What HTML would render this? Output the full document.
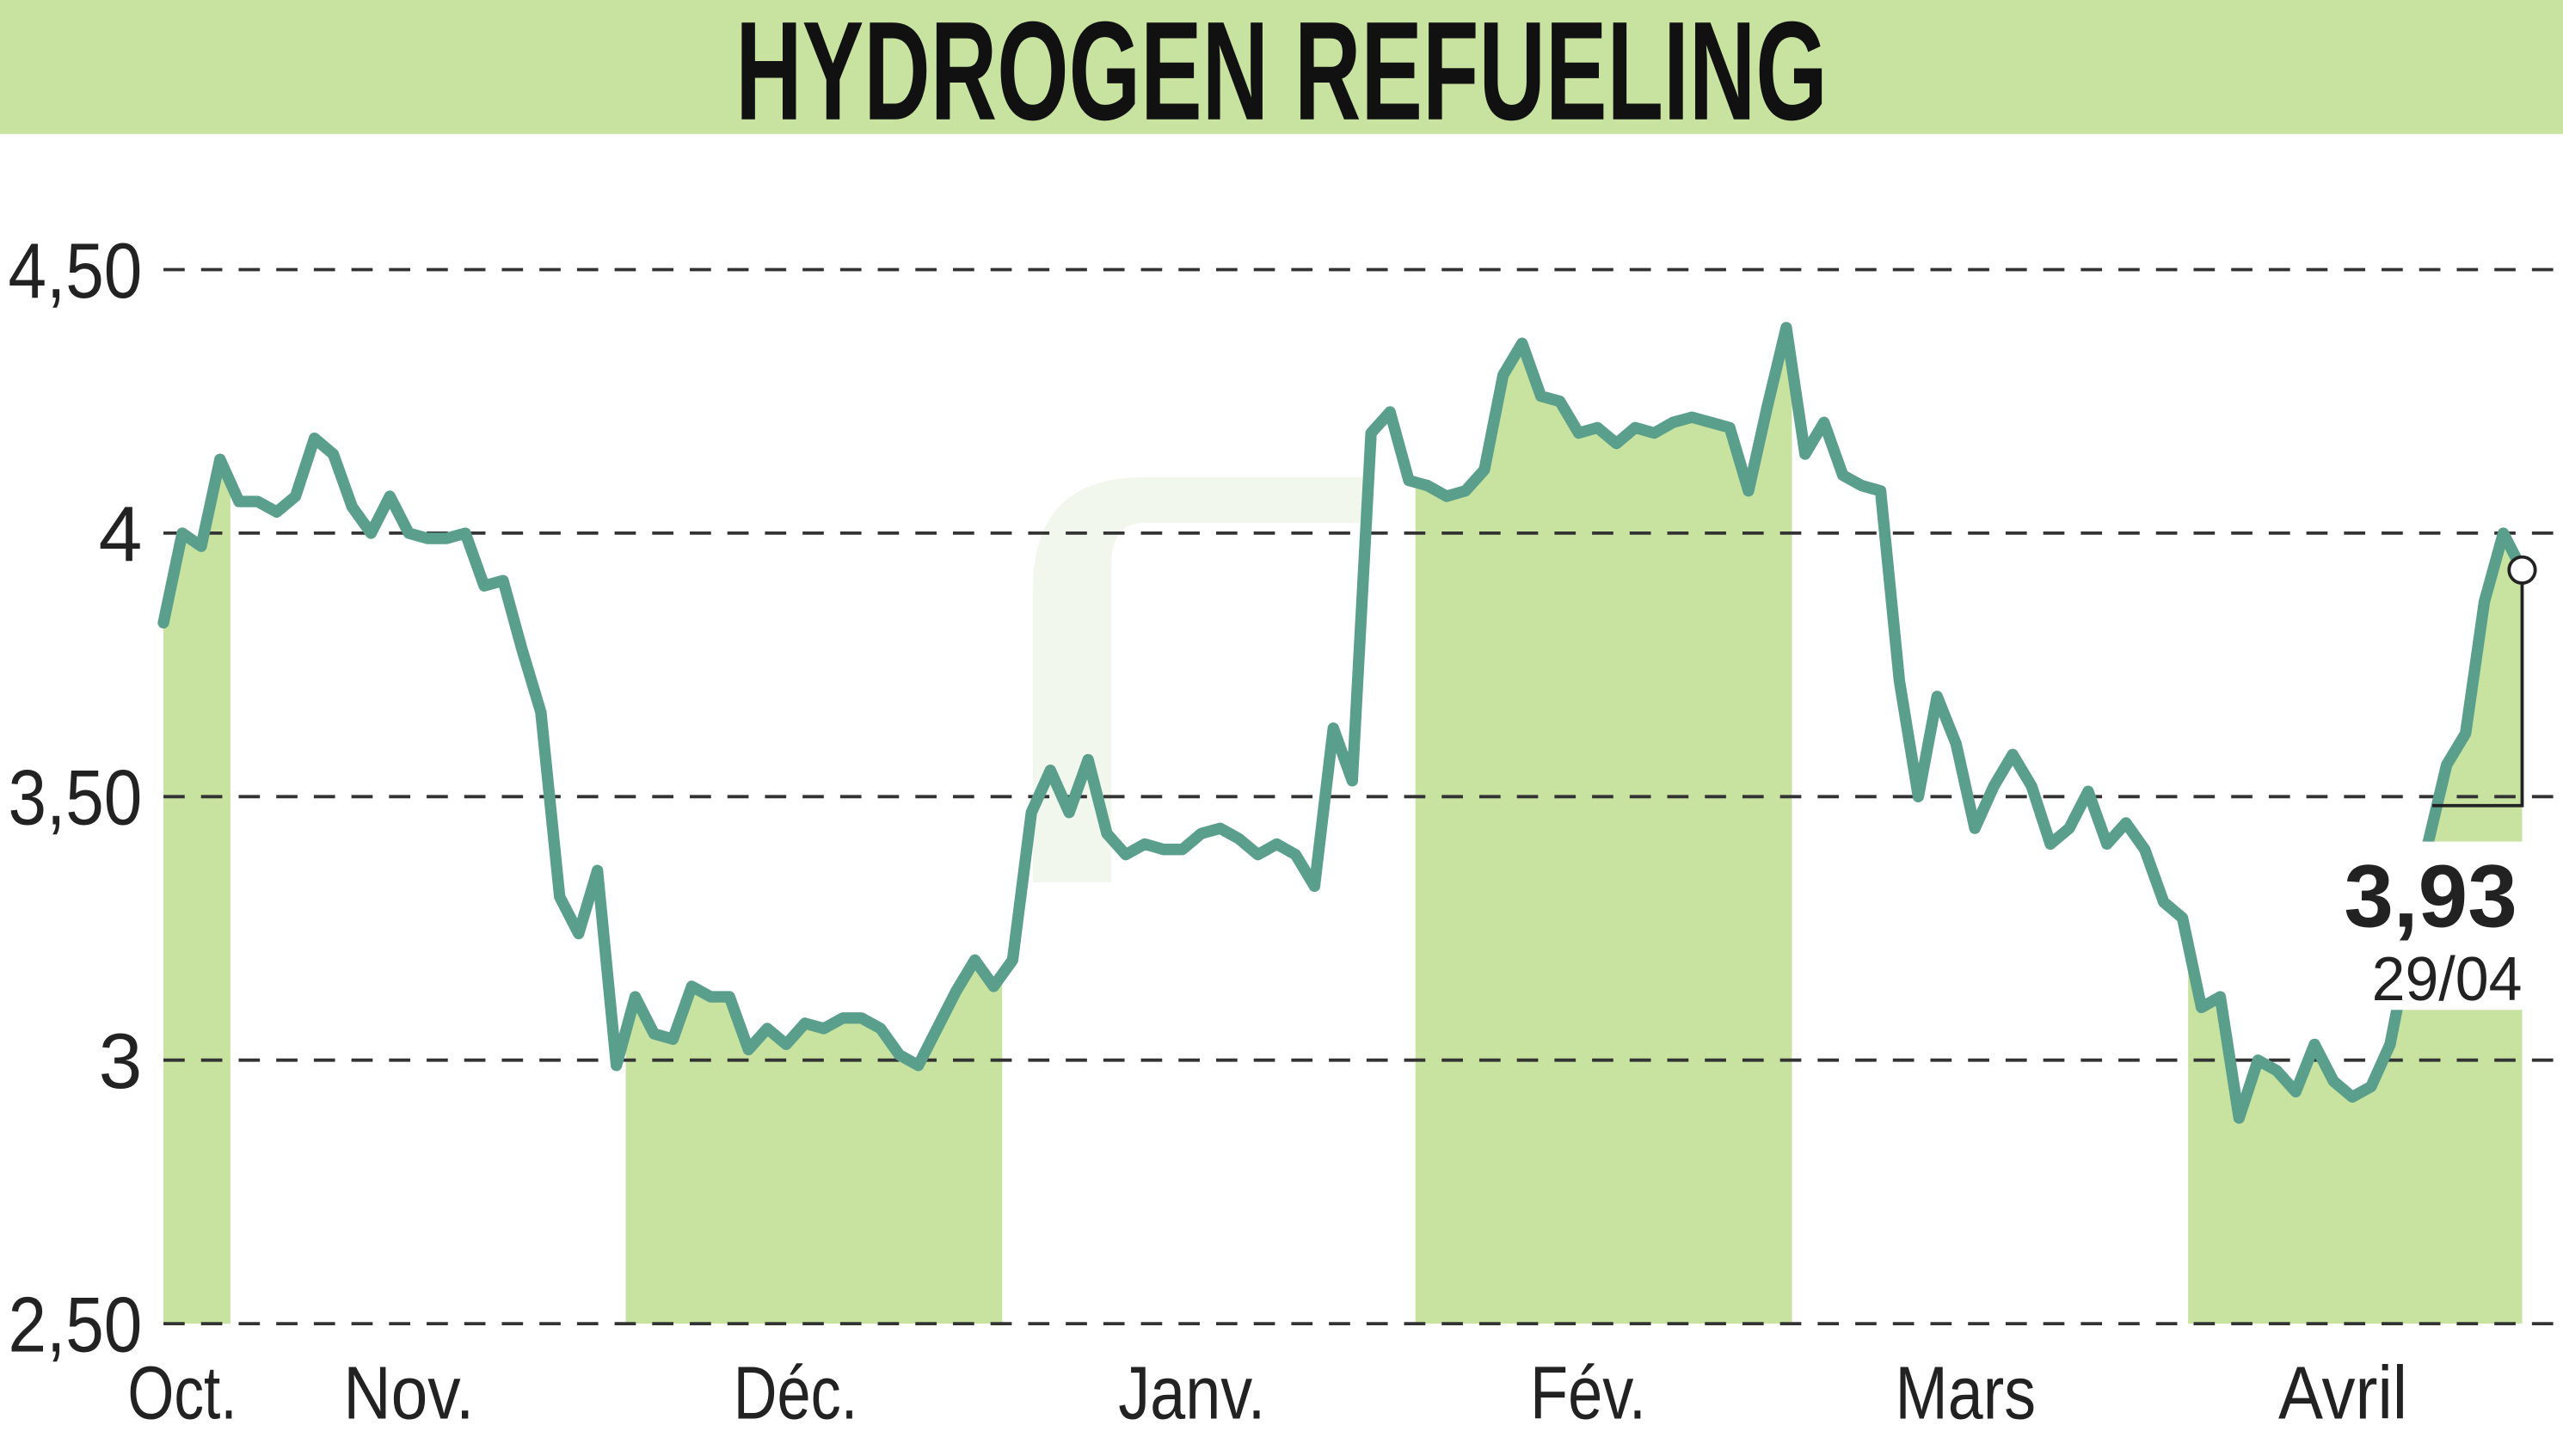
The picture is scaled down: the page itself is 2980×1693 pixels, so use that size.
<!DOCTYPE html>
<html><head><meta charset="utf-8"><style>
html,body{margin:0;padding:0;background:#fff;}
svg{display:block;}
text{font-family:"Liberation Sans Narrow","Liberation Sans",sans-serif;}
</style></head><body>
<svg id="chart" width="2980" height="1693" viewBox="0 0 1568 891" preserveAspectRatio="none" xmlns="http://www.w3.org/2000/svg">
<rect x="0" y="0" width="1568" height="82" fill="#c8e2a0"/>
<text x="784" y="73" text-anchor="middle" font-size="86" font-weight="bold" fill="#111" textLength="668" lengthAdjust="spacingAndGlyphs">HYDROGEN REFUELING</text>
<g opacity="0.3">
<path d="M632,540 L632,360 Q632,292 700,292 L840,292 L840,320 L700,320 Q680,320 680,345 L680,540 Z" fill="#cfe6c4"/>
</g>
<g id="fills"></g>
<g id="grid"></g>
<g id="ylabels"></g>
<g id="xlabels"></g>
<path id="line" fill="none" stroke="#5a9e8c" stroke-width="7" stroke-linejoin="round" stroke-linecap="round"/>
<rect x="1425" y="515" width="119" height="103" fill="#fff"/>
<g id="marker"></g>
<text x="1540" y="567" text-anchor="end" font-size="54" font-weight="bold" fill="#222" textLength="106" lengthAdjust="spacingAndGlyphs">3,93</text>
<text x="1543" y="612" text-anchor="end" font-size="38" fill="#222" textLength="92" lengthAdjust="spacingAndGlyphs">29/04</text>
</svg>
<script>
const values=[3.83,4.0,3.975,4.14,4.06,4.06,4.04,4.07,4.18,4.15,4.05,4.0,4.07,4.0,3.99,3.99,4.0,3.9,3.91,3.78,3.66,3.31,3.24,3.36,2.99,3.12,3.05,3.04,3.14,3.12,3.12,3.02,3.06,3.03,3.07,3.06,3.08,3.08,3.06,3.01,2.99,3.06,3.13,3.19,3.14,3.19,3.47,3.55,3.47,3.57,3.43,3.39,3.41,3.40,3.40,3.43,3.44,3.42,3.39,3.41,3.39,3.33,3.63,3.53,4.19,4.23,4.1,4.09,4.07,4.08,4.12,4.3,4.36,4.26,4.25,4.19,4.2,4.17,4.2,4.19,4.21,4.22,4.21,4.2,4.08,4.24,4.39,4.15,4.21,4.11,4.09,4.08,3.72,3.5,3.69,3.6,3.44,3.52,3.58,3.52,3.41,3.44,3.51,3.41,3.45,3.40,3.30,3.27,3.1,3.12,2.89,3.0,2.98,2.94,3.03,2.96,2.93,2.95,3.03,3.21,3.41,3.56,3.62,3.87,4.0,3.93];
const yTicks=[4.5,4,3.5,3,2.5];
const yTickLabels=["4,50","4","3,50","3","2,50"];
const months=["Oct.","Nov.","Déc.","Janv.","Fév.","Mars","Avril"];
const monthCenterIdx=[1,13,33.5,54.5,75.5,95.5,115.5];
const shadedMonths=[[0,3.55],[24.5,44.45],[66.35,86.3],[107.3,126]];

const X0=100,X1=1543,Y0=810,Y1=165,VMIN=2.5,VMAX=4.5;
const n=values.length;
const xs=i=>X0+i*(X1-X0)/(n-1);
const ys=v=>Y0-(v-VMIN)/(VMAX-VMIN)*(Y0-Y1);
const NS="http://www.w3.org/2000/svg";
const svg=document.getElementById('chart');
function mk(tag,attrs,parent){const e=document.createElementNS(NS,tag);for(const k in attrs)e.setAttribute(k,attrs[k]);parent.appendChild(e);return e;}

const defs=mk('defs',{},svg);
const clip=mk('clipPath',{id:'mclip'},defs);
shadedMonths.forEach(r=>{mk('rect',{x:xs(r[0]),y:0,width:Math.min(xs(r[1]),X1)-xs(r[0]),height:891},clip);});
let d='M'+xs(0)+','+Y0;
values.forEach((v,i)=>{d+=' L'+xs(i).toFixed(1)+','+ys(v).toFixed(1);});
d+=' L'+xs(n-1)+','+Y0+' Z';
const area=mk('path',{d:d,fill:'#c8e2a0','clip-path':'url(#mclip)'},document.getElementById('fills'));



const grid=document.getElementById('grid');
const yl=document.getElementById('ylabels');
yTicks.forEach((t,i)=>{
  const l=mk('line',{x1:100,x2:1568,y1:ys(t),y2:ys(t),stroke:'#333','stroke-width':2,'stroke-dasharray':'13 10'},grid);
  
  
  const lab=yTickLabels[i];
  const tx=mk('text',{x:87,y:ys(t)+17,'text-anchor':'end','font-size':48,fill:'#222'},yl);
  if(lab.length>2){tx.setAttribute('textLength',82);tx.setAttribute('lengthAdjust','spacingAndGlyphs');}
  tx.textContent=lab;
  
  
});
const xl=document.getElementById('xlabels');
const widths=[67,80,76,90,71,86,79];
months.forEach((m,i)=>{
  const tx=mk('text',{x:xs(monthCenterIdx[i]),y:868,'text-anchor':'middle','font-size':46,fill:'#222',textLength:widths[i],lengthAdjust:'spacingAndGlyphs'},xl);
  tx.textContent=m;
  
  
});
let ld='';
values.forEach((v,i)=>{ld+=(i?' L':'M')+xs(i).toFixed(1)+','+ys(v).toFixed(1);});
document.getElementById('line').setAttribute('d',ld);
const mg=document.getElementById('marker');
const lx=xs(n-1),lyv=ys(values[n-1]);
const p=mk('path',{d:'M'+lx+','+lyv+' L'+lx+',493 L1488,493',fill:'none',stroke:'#222','stroke-width':2},mg);


const c=mk('circle',{cx:lx,cy:lyv,r:8,fill:'#fff',stroke:'#222','stroke-width':2},mg);


</script>
</body></html>
